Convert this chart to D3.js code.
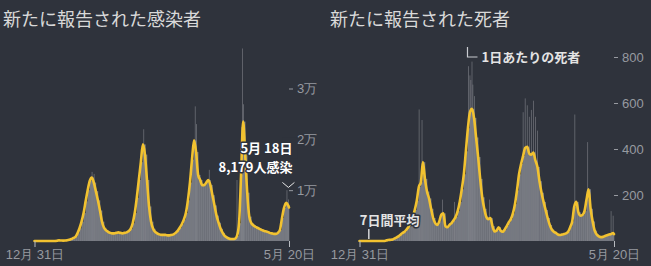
<!DOCTYPE html>
<html><head><meta charset="utf-8">
<script src="https://cdn.jsdelivr.net/npm/d3@7"></script>
<style>
html,body{margin:0;padding:0;background:#2f333c;}
svg{display:block;font-family:"Noto Sans CJK JP","Noto Sans",sans-serif;}
</style></head><body>
<svg id="c" width="651" height="266"></svg>
<script>
// ---------- data ----------
const startDate = "2019-12-31";
const endDate = "2022-05-20";
const stepDays = 7;
const titles = ["新たに報告された感染者", "新たに報告された死者"];
const xTickLabels = ["12月 31日", "5月 20日"];
const caseTicks = [10000, 20000, 30000];
const caseTickLabels = ["1万", "2万", "3万"];
const deathTicks = [200, 400, 600, 800];
const deathTickLabels = ["200", "400", "600", "800"];

// weekly 7-day average of new cases (one value per week from startDate)
const casesAvg = [
  0,0,0,0,0,0,0,0,0,0,
  5,40,120,100,80,100,150,250,400,600,
  800,1500,2500,3800,5500,7800,10000,11800,12500,11500,
  9800,8000,6000,3800,2600,2100,1800,1600,1500,1500,
  1600,1700,1600,1500,1600,1700,1900,2400,3500,5500,
  8500,12000,15500,19000,17000,12000,6800,3800,2400,1800,
  1500,1300,1200,1200,1200,1100,1100,1200,1300,1600,
  2000,2600,3300,4200,5500,8000,11500,16000,19800,17500,
  13000,12000,11000,11000,11500,12000,11000,9000,7000,5000,
  3600,2400,1600,1000,700,500,400,400,450,1000,
  3500,13000,23500,17000,9500,4800,3500,3100,2800,2600,
  2400,2200,2000,1900,1800,1600,1500,1400,1400,1600,
  2200,4500,6500,7500,7000
];
const casesAvgLatest = 6600;

// weekly 7-day average of new deaths
const deathsAvg = [
  0,0,0,0,0,0,0,0,0,0,
  0,0,0,2,4,5,6,10,15,20,
  27,35,40,50,62,80,105,135,175,235,
  255,343,270,215,185,140,100,78,70,85,
  115,120,65,60,70,78,90,105,130,170,
  225,290,390,490,560,575,535,450,365,270,
  190,140,105,95,100,65,42,45,60,45,
  40,50,65,82,95,120,160,220,290,335,
  370,405,410,380,375,385,350,322,260,210,
  170,135,100,70,50,40,35,28,26,28,
  30,33,40,60,85,150,170,125,110,113,
  130,180,225,140,85,45,28,20,17,18,
  22,25,28,30,35
];
const deathsAvgLatest = 30;

// notable single-day reports that stand out above the average
const caseDailySpikes = [
  ["2020-07-15", 13600], ["2020-07-22", 13200], ["2021-01-01", 17500],
  ["2021-01-08", 21980], ["2021-01-13", 19000], ["2021-07-03", 26485],
  ["2021-07-07", 23000], ["2021-08-20", 14000], ["2021-11-23", 12000],
  ["2021-12-08", 19800], ["2021-12-09", 22400], ["2021-12-12", 37875],
  ["2021-12-14", 23800], ["2021-12-15", 26900], ["2022-05-13", 10000],
  ["2022-05-18", 8179]
];
const deathDailySpikes = [
  ["2020-07-22", 572], ["2020-08-01", 526], ["2020-10-10", 180],
  ["2020-11-20", 170], ["2021-01-07", 760], ["2021-01-12", 720],
  ["2021-01-15", 700], ["2021-01-19", 780], ["2021-01-22", 680],
  ["2021-01-27", 630], ["2021-03-20", 180], ["2021-07-13", 560],
  ["2021-07-20", 620], ["2021-07-27", 590], ["2021-08-03", 540],
  ["2021-08-10", 570], ["2021-08-17", 610], ["2021-08-24", 540],
  ["2021-08-31", 480], ["2022-01-06", 550], ["2022-02-19", 430],
  ["2022-05-10", 130], ["2022-05-17", 110]
];
const latestDate = "2022-05-18";
const latestCases = 8179;
const latestLabel = ["5月 18日", "8,179人感染"];
const barLegend = "1日あたりの死者";
const lineLegend = "7日間平均";

// ---------- drawing ----------
const BG = "#2f333c", BAR = "#767981", SPIKE = "#80838a", LINE = "#f2c230", TXT = "#d9d9d9", AX = "#979aa0";
const parse = d3.utcParse("%Y-%m-%d");
const t0 = parse(startDate), t1 = parse(endDate);
const svg = d3.select("#c");
svg.append("rect").attr("width", 651).attr("height", 266).attr("fill", BG);

function series(vals, last) {
  const pts = vals.map((v, i) => ({date: d3.utcDay.offset(t0, i * stepDays), value: v}));
  pts.push({date: t1, value: last});
  return pts;
}

function panel(cfg) {
  const g = svg.append("g");
  const x = d3.scaleUtc().domain([t0, t1]).range(cfg.xr);
  const y = d3.scaleLinear().domain(cfg.yd).range(cfg.yr);
  const pts = series(cfg.avg, cfg.last);
  // bars (weekly bins)
  g.append("g").selectAll("rect").data(pts.slice(0, -1)).join("rect")
    .attr("x", d => x(d.date))
    .attr("width", d => Math.max(0, x(d3.min([d3.utcDay.offset(d.date, stepDays), t1])) - x(d.date)) + 0.3)
    .attr("y", d => y(d.value))
    .attr("height", d => y(0) - y(d.value))
    .attr("fill", BAR);
  // daily spikes
  g.append("g").selectAll("rect").data(cfg.spikes).join("rect")
    .attr("x", d => x(parse(d[0])) - 0.35)
    .attr("width", 0.7)
    .attr("y", d => y(d[1]))
    .attr("height", d => y(0) - y(d[1]))
    .attr("fill", SPIKE).attr("opacity", 0.85);
  // average line
  g.append("path").datum(pts)
    .attr("fill", "none").attr("stroke", LINE).attr("stroke-width", 2.6)
    .attr("stroke-linejoin", "round").attr("stroke-linecap", "round")
    .attr("d", d3.line().x(d => x(d.date)).y(d => y(d.value)).curve(d3.curveMonotoneX));
  // x axis
  const xa = g.append("g").attr("transform", `translate(0,${cfg.yr[0]})`)
    .call(d3.axisBottom(x).tickValues([t0, t1]).tickFormat((d, i) => xTickLabels[i]).tickSize(6).tickPadding(3));
  xa.select(".domain").remove();
  xa.selectAll("line").attr("stroke", "#b8bbc0");
  xa.selectAll("text").attr("fill", AX).style("font-size", "13px").style("font-family", "inherit");
  // y axis
  const ya = g.append("g").attr("transform", `translate(${cfg.xr[1]},0)`)
    .call(d3.axisRight(y).tickValues(cfg.ticks).tickFormat((d, i) => cfg.tickLabels[i]).tickSize(4).tickPadding(4));
  ya.select(".domain").remove();
  ya.selectAll("line").attr("stroke", AX);
  ya.selectAll("text").attr("fill", AX).style("font-size", "13px").style("font-family", "inherit");
  // title
  svg.append("text").attr("x", cfg.tx).attr("y", 26).attr("fill", TXT)
    .style("font-size", "18px").text(cfg.title);
  return {g, x, y};
}

const L = panel({xr: [34.5, 289], yd: [0, 30000], yr: [241, 88.5], avg: casesAvg, last: casesAvgLatest,
  spikes: caseDailySpikes, ticks: caseTicks, tickLabels: caseTickLabels, title: titles[0], tx: 3});
const R = panel({xr: [359.5, 614], yd: [0, 800], yr: [241, 57], avg: deathsAvg, last: deathsAvgLatest,
  spikes: deathDailySpikes, ticks: deathTicks, tickLabels: deathTickLabels, title: titles[1], tx: 330});

function label(g, x, y, txt, anchor, size, halo) {
  return g.append("text").attr("x", x).attr("y", y).attr("text-anchor", anchor)
    .attr("fill", "#ffffff").attr("font-weight", "bold").style("font-size", size + "px")
    .attr("stroke", BG).attr("stroke-width", halo).attr("stroke-linejoin", "round")
    .attr("paint-order", "stroke").text(txt);
}

// latest-day annotation (cases), drawn above the y axis; a small backdrop masks the tick behind its end
{
  const lx = L.x(parse(latestDate)), ly = L.y(latestCases);
  const ann = svg.append("g");
  const bg = ann.append("rect").attr("fill", BG);
  const t1n = label(ann, lx + 4, ly - 46, latestLabel[0], "end", 13, 3);
  label(ann, lx + 4, ly - 27, latestLabel[1], "end", 13, 3);
  const b1 = t1n.node().getBBox();
  bg.attr("x", b1.x + b1.width - 10).attr("y", b1.y - 1).attr("width", 15).attr("height", b1.height + 2);
  ann.append("path")
    .attr("d", `M${lx - 6},${ly - 17}L${lx},${ly - 12}L${lx + 6},${ly - 17}`)
    .attr("fill", "none").attr("stroke", "#e8e8e8").attr("stroke-width", 1);
}
// legend for daily bars (deaths)
{
  const bx = R.x(parse("2021-01-07")), by = R.y(800);
  R.g.append("path").attr("d", `M${bx - 1},${by - 10}V${by}H${bx + 9}`)
    .attr("fill", "none").attr("stroke", "#c9cbd0").attr("stroke-width", 1.2);
  label(R.g, bx + 13, by + 4.5, barLegend, "start", 13, 3).attr("fill", "#e4e4e4");
}
// legend for average line (deaths)
{
  const lx = R.x(parse("2020-02-01")), ly = R.y(0);
  R.g.append("line").attr("x1", lx).attr("x2", lx).attr("y1", ly - 2).attr("y2", ly - 12)
    .attr("stroke", "#ffffff").attr("stroke-width", 1.2);
  label(R.g, lx - 9, ly - 16, lineLegend, "start", 13, 3).attr("fill", "#e4e4e4");
}
</script>
</body></html>
